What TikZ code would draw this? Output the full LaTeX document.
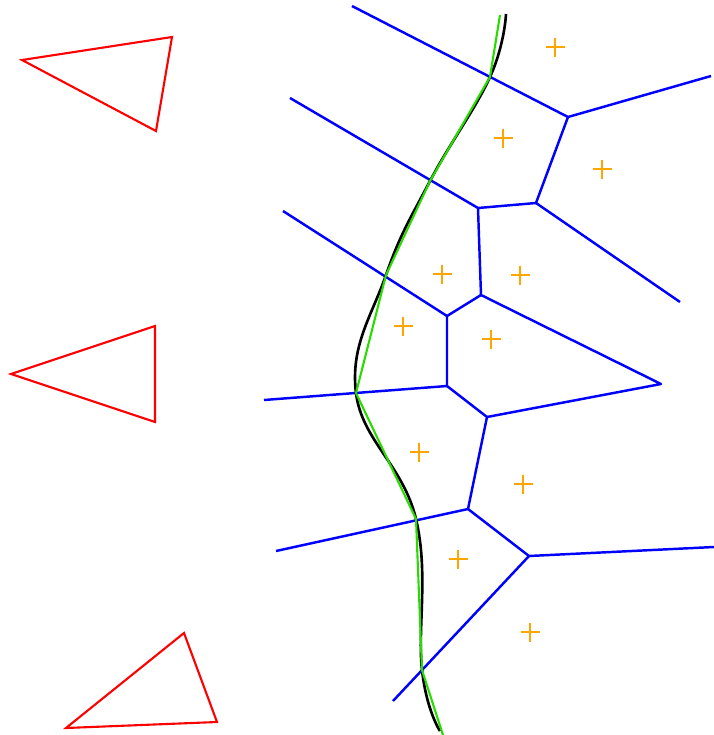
\documentclass[tikz,border=0pt]{standalone}
\usepackage{tikz}
\usetikzlibrary{calc}
\definecolor{voroblue}{RGB}{0,0,255}
\definecolor{crustgreen}{RGB}{40,220,0}
\definecolor{siteorange}{RGB}{255,165,0}

\begin{document}
\begin{tikzpicture}[
    x=0.02cm, y=-0.02cm,
    edge/.style={draw=voroblue, line width=1.4pt, line join=round},
    tri/.style={draw=red, line width=1.2pt},
    crust/.style={draw=crustgreen, line width=1.2pt},
    curve/.style={draw=black, line width=1.5pt},
    site/.style={draw=siteorange, line width=1.2pt}
  ]
  \useasboundingbox (0,0) rectangle (714,735);

  % triangles
  \draw[tri] (22,60) -- (172,37) -- (156,131) -- cycle;
  \draw[tri] (11,374) -- (155,326) -- (155,422) -- cycle;
  \draw[tri] (66,728) -- (184,633) -- (217,722) -- cycle;

  % voronoi vertices
  \coordinate (v1) at (568,117);
  \coordinate (v2) at (536,203);
  \coordinate (v3) at (478,208);
  \coordinate (v4) at (481,295);
  \coordinate (v5) at (447,316);
  \coordinate (v6) at (661,384);
  \coordinate (v7) at (447,386);
  \coordinate (v8) at (487,417);
  \coordinate (v9) at (468,509);
  \coordinate (v10) at (529,556);
  % open ends
  \coordinate (e1) at (352,6);
  \coordinate (e2) at (711,76);
  \coordinate (e3) at (290,98);
  \coordinate (e4) at (680,302);
  \coordinate (e5) at (283,211);
  \coordinate (e6) at (264,400);
  \coordinate (e7) at (276,551);
  \coordinate (e8) at (714,547);
  \coordinate (e9) at (393,701);

  \draw[edge] (e1) -- (v1) -- (e2);
  \draw[edge] (v1) -- (v2) -- (v3) -- (e3);
  \draw[edge] (v2) -- (e4);
  \draw[edge] (v3) -- (v4) -- (v5) -- (e5);
  \draw[edge] (v4) -- (v6) -- (v8);
  \draw[edge] (v5) -- (v7) -- (e6);
  \draw[edge] (v7) -- (v8) -- (v9) -- (e7);
  \draw[edge] (v9) -- (v10) -- (e8);
  \draw[edge] (v10) -- (e9);

  % crossings of the boundary with the edges
  \coordinate (c0) at (500,15);
  \coordinate (c1) at (490,77);
  \coordinate (c2) at (430,181);
  \coordinate (c3) at (386,275);
  \coordinate (c4) at (356,393);
  \coordinate (c5) at (416,519);
  \coordinate (c6) at (422,670);
  \coordinate (c7) at (443,735);

  \draw[curve] plot[smooth, tension=0.7] coordinates {(506,14) (c1) (c2) (c3) (c4) (c5) (c6) (440,731)};
  \draw[crust] (c0) -- (c1) -- (c2) -- (c3) -- (c4) -- (c5) -- (c6) -- (c7);

  % sites
  \foreach \sx/\sy in {555/47, 503/138, 602/169, 442/274, 520/275, 403/326,
                       491/339, 419/452, 523/484, 458/559, 530/632}
    \draw[site] (\sx-9.5,\sy) -- (\sx+9.5,\sy) (\sx,\sy-9.5) -- (\sx,\sy+9.5);

\end{tikzpicture}
\end{document}
